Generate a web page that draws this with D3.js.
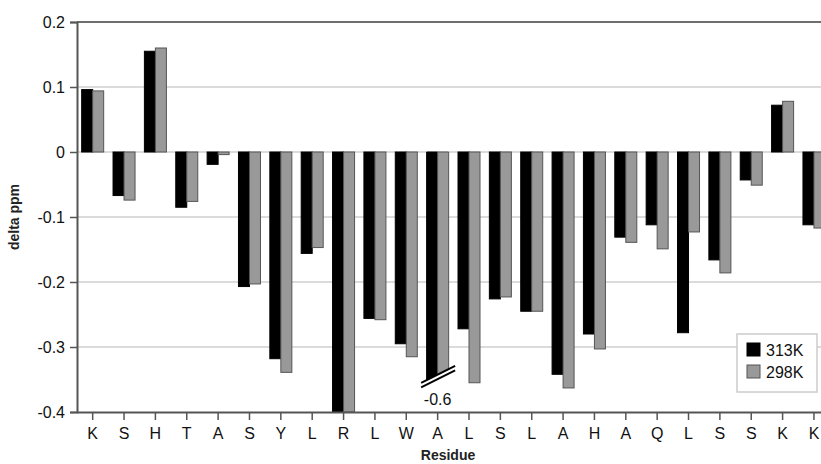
<!DOCTYPE html>
<html><head><meta charset="utf-8">
<script src="https://cdn.jsdelivr.net/npm/d3@7/dist/d3.min.js"></script>
<style>body{margin:0;background:#fff}svg{display:block;font-family:"Liberation Sans",Arial,sans-serif}</style>
</head><body><svg id="c" width="821" height="464"></svg>
<script>
const residues = ["K","S","H","T","A","S","Y","L","R","L","W","A","L","S","L","A","H","A","Q","L","S","S","K","K"];
const seriesNames = ["313K","298K"];
const v313 = [0.096,-0.067,0.155,-0.085,-0.019,-0.207,-0.318,-0.156,-0.41,-0.256,-0.295,-0.6,-0.272,-0.226,-0.245,-0.342,-0.280,-0.131,-0.112,-0.278,-0.166,-0.043,0.072,-0.112];
const v298 = [0.094,-0.074,0.160,-0.076,-0.004,-0.203,-0.339,-0.147,-0.40,-0.258,-0.315,-0.6,-0.355,-0.223,-0.245,-0.363,-0.303,-0.139,-0.149,-0.123,-0.186,-0.051,0.078,-0.117];
const yTicks = [-0.4,-0.3,-0.2,-0.1,0,0.1,0.2];
const yTickLabels = ["-0.4","-0.3","-0.2","-0.1","0","0.1","0.2"];
const brokenLabel = "-0.6";
const breakValue = -0.3425;

const svg = d3.select("#c");
const L = 77, T = 22, B = 412, step = 31.36;
const R = L + step*residues.length;
const x = d3.scaleBand().domain(d3.range(residues.length)).range([L, R]).padding(0);
const xs = d3.scaleBand().domain(seriesNames).range([0, x.bandwidth()]).paddingInner(0).paddingOuter(0.425);
const y = d3.scaleLinear().domain([-0.4, 0.2]).range([B, T]);
const colors = {"313K":"#000","298K":"#999"};
const strokes = {"313K":"#000","298K":"#555"};

svg.append("defs").append("clipPath").attr("id","plot").append("rect")
  .attr("x",L).attr("y",T).attr("width",R-L).attr("height",B-T);

// gridlines
svg.append("g").selectAll("line").data(yTicks.filter(t=>t>-0.4 && t<0.2)).join("line")
  .attr("x1",L).attr("x2",821).attr("y1",d=>y(d)).attr("y2",d=>y(d))
  .attr("stroke","#cfcfcf").attr("stroke-width",1.5);

const data = [];
residues.forEach((r,i)=>{ data.push({i, s:"313K", v:v313[i]}); data.push({i, s:"298K", v:v298[i]}); });

const bars = svg.append("g").attr("clip-path","url(#plot)");
const slope = 0.5;
data.forEach(d=>{
  const x0 = x(d.i)+xs(d.s), x1 = x0+xs.bandwidth();
  const cx = x(d.i)+x.bandwidth()/2;
  if (d.v < -0.45) {
    const yb = y(breakValue);
    const pts = [[x0,y(0)],[x1,y(0)],[x1, yb-(x1-cx)*slope],[x0, yb+(cx-x0)*slope]];
    bars.append("path").attr("d","M"+pts.map(p=>p.join(",")).join("L")+"Z")
      .attr("fill",colors[d.s]).attr("stroke",strokes[d.s]).attr("stroke-width",1);
  } else {
    const ya = y(Math.max(d.v,0)), yb2 = y(Math.min(d.v,0));
    bars.append("rect").attr("x",x0).attr("y",ya).attr("width",x1-x0).attr("height",yb2-ya)
      .attr("fill",colors[d.s]).attr("stroke",strokes[d.s]).attr("stroke-width",1);
  }
});

// break marks and label
residues.forEach((r,i)=>{
  if (v313[i] < -0.45 || v298[i] < -0.45) {
    const cx = x(i)+x.bandwidth()/2, yb = y(breakValue);
    [0,4.5].forEach(off=>{
      svg.append("line").attr("x1",cx-16.5).attr("x2",cx+17.5)
        .attr("y1",yb+off+16.5*slope).attr("y2",yb+off-17.5*slope)
        .attr("stroke","#000").attr("stroke-width",2);
    });
    svg.append("text").attr("x",cx).attr("y",yb+30).attr("text-anchor","middle")
      .attr("font-size",16).attr("fill","#111").text(brokenLabel);
  }
});

// top border
svg.append("line").attr("x1",L).attr("x2",821).attr("y1",T).attr("y2",T).attr("stroke","#6e6e6e").attr("stroke-width",2);

// y axis
const ya = svg.append("g").attr("transform",`translate(${L},0)`)
  .call(d3.axisLeft(y).tickValues(yTicks).tickSize(7).tickPadding(5).tickFormat((d,k)=>yTickLabels[k]));
ya.select(".domain").attr("stroke","#555").attr("stroke-width",2);
ya.selectAll(".tick line").attr("stroke","#555").attr("stroke-width",1.5);
ya.selectAll("text").attr("font-size",16).attr("fill","#111").attr("font-family","Liberation Sans, Arial, sans-serif");

// x axis
const xa = svg.append("g").attr("transform",`translate(0,${B})`)
  .call(d3.axisBottom(x).tickFormat(i=>residues[i]).tickSize(8).tickPadding(8).tickSizeOuter(0));
xa.select(".domain").attr("stroke","#555").attr("stroke-width",2);
xa.selectAll(".tick line").attr("stroke","#555").attr("stroke-width",1.5);
xa.selectAll("text").attr("font-size",16).attr("fill","#111").attr("font-family","Liberation Sans, Arial, sans-serif");

// titles
svg.append("text").attr("x",448).attr("y",460).attr("text-anchor","middle").attr("font-size",14).attr("font-weight","bold").attr("fill","#222").text("Residue");
svg.append("text").attr("transform","translate(19,217) rotate(-90)").attr("text-anchor","middle").attr("font-size",14).attr("font-weight","bold").attr("fill","#222").text("delta ppm");

// legend
const lg = svg.append("g");
lg.append("rect").attr("x",737).attr("y",334).attr("width",80).attr("height",58).attr("fill","#fff").attr("stroke","#ccc").attr("stroke-width",1.5);
seriesNames.forEach((s,k)=>{
  lg.append("rect").attr("x",747).attr("y",343+k*22).attr("width",13).attr("height",13)
    .attr("fill",colors[s]).attr("stroke",strokes[s]).attr("stroke-width",1);
  lg.append("text").attr("x",766).attr("y",356+k*22).attr("font-size",16).attr("fill","#111").text(s);
});
</script></body></html>
